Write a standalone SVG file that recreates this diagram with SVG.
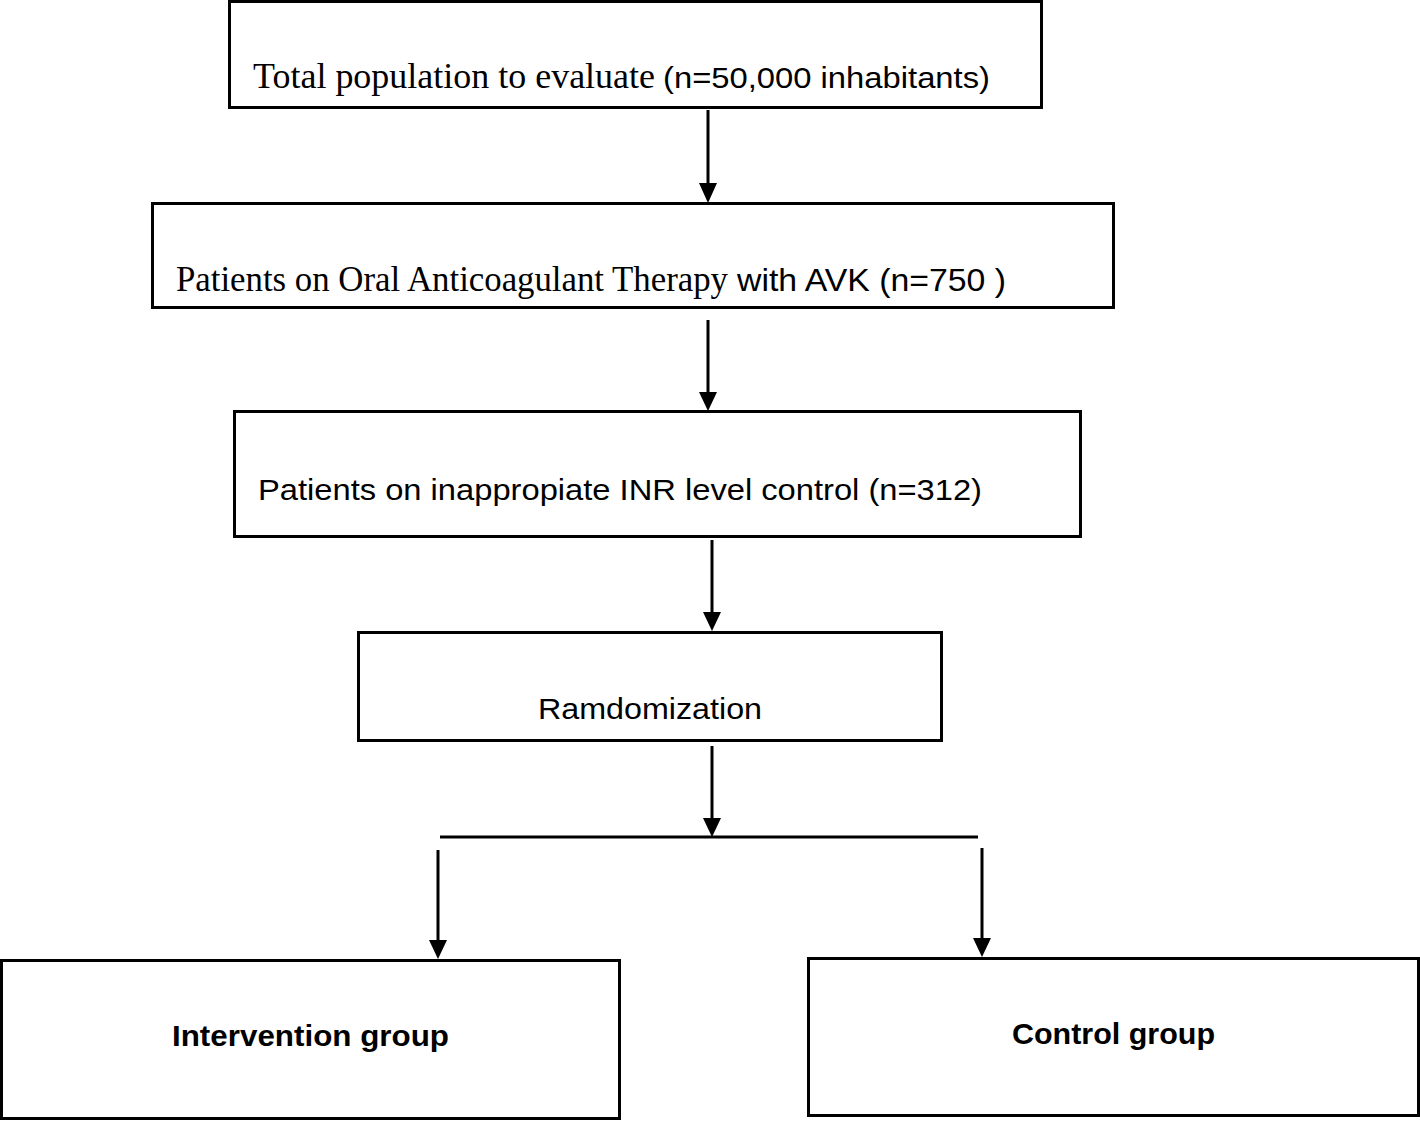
<svg xmlns="http://www.w3.org/2000/svg" width="1420" height="1121" viewBox="0 0 1420 1121">
<style>
.box{fill:#fff;stroke:#000;stroke-width:3}
.serif{font-family:"Liberation Serif","Times New Roman",serif;font-size:36px;fill:#000}
.sans{font-family:"Liberation Sans",Arial,sans-serif;font-size:30px;fill:#000}
.bold{font-family:"Liberation Sans",Arial,sans-serif;font-size:30px;font-weight:bold;fill:#000}
.conn{stroke:#000;stroke-width:3;fill:none}
.head{fill:#000}
</style>
<rect width="1420" height="1121" fill="#fff"/>
<g id="connectors">
<line class="conn" x1="708" y1="110" x2="708" y2="190"/>
<polygon class="head" points="699,183 717,183 708,203"/>
<line class="conn" x1="708" y1="320" x2="708" y2="398"/>
<polygon class="head" points="699,392 717,392 708,411"/>
<line class="conn" x1="712" y1="540" x2="712" y2="618"/>
<polygon class="head" points="703,612 721,612 712,631"/>
<line class="conn" x1="712" y1="746" x2="712" y2="824"/>
<polygon class="head" points="703,818 721,818 712,837"/>
<line class="conn" x1="440" y1="837" x2="978" y2="837"/>
<line class="conn" x1="438" y1="850" x2="438" y2="946"/>
<polygon class="head" points="429,940 447,940 438,959"/>
<line class="conn" x1="982" y1="848" x2="982" y2="944"/>
<polygon class="head" points="973,938 991,938 982,957"/>
</g>
<g id="node-total">
<rect class="box" x="229.5" y="1.5" width="812" height="106"/>
<text x="253" y="88"><tspan class="serif" textLength="402" lengthAdjust="spacingAndGlyphs">Total population to evaluate</tspan><tspan class="sans" x="663" textLength="327" lengthAdjust="spacingAndGlyphs">(n=50,000 inhabitants)</tspan></text>
</g>
<g id="node-oac">
<rect class="box" x="152.5" y="203.5" width="961" height="104"/>
<text x="176" y="291"><tspan class="serif" textLength="552" lengthAdjust="spacingAndGlyphs">Patients on Oral Anticoagulant Therapy</tspan><tspan class="sans" style="font-size:32px" x="737" textLength="269" lengthAdjust="spacingAndGlyphs">with AVK (n=750 )</tspan></text>
</g>
<g id="node-inr">
<rect class="box" x="234.5" y="411.5" width="846" height="125"/>
<text class="sans" x="258" y="500" textLength="724" lengthAdjust="spacingAndGlyphs">Patients on inappropiate INR level control  (n=312)</text>
</g>
<g id="node-random">
<rect class="box" x="358.5" y="632.5" width="583" height="108"/>
<text class="sans" x="538" y="719" textLength="224" lengthAdjust="spacingAndGlyphs">Ramdomization</text>
</g>
<g id="node-intervention">
<rect class="box" x="1.5" y="960.5" width="618" height="158"/>
<text class="bold" x="172" y="1046" textLength="277" lengthAdjust="spacingAndGlyphs">Intervention group</text>
</g>
<g id="node-control">
<rect class="box" x="808.5" y="958.5" width="610" height="157"/>
<text class="bold" x="1012" y="1044" textLength="203" lengthAdjust="spacingAndGlyphs">Control group</text>
</g>
</svg>
